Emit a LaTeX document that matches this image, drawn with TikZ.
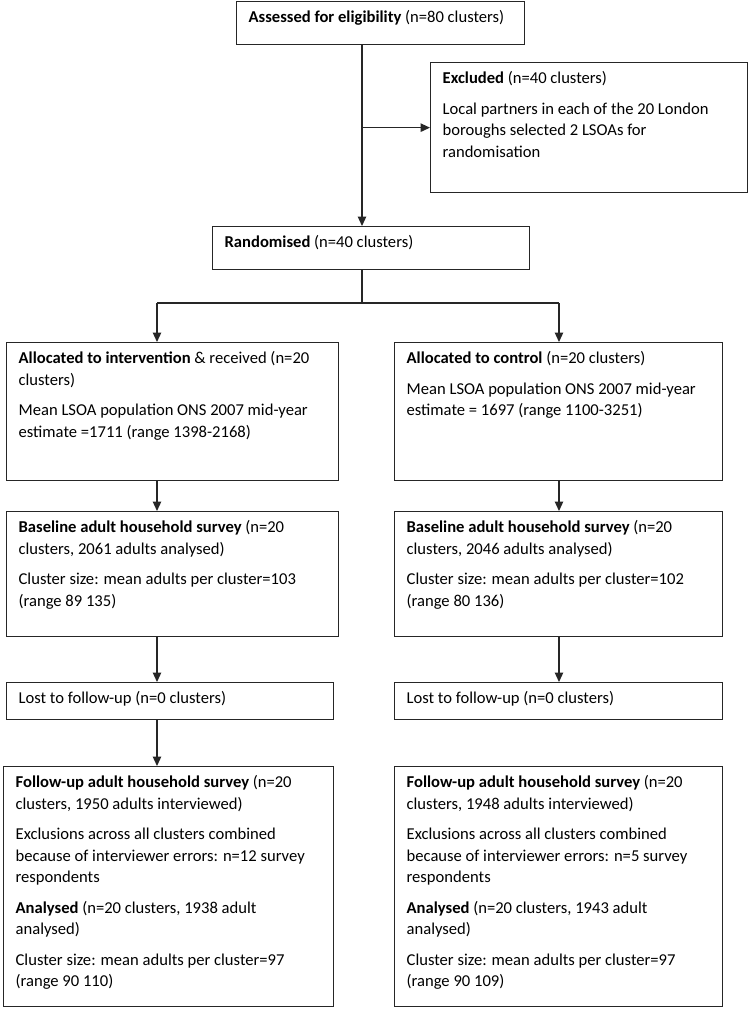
\documentclass[tikz,border=0pt]{standalone}
\usepackage{fontspec}
\setmainfont{Carlito}
\usetikzlibrary{arrows.meta}
\newcommand\bxt[3]{\parbox[c][#2pt][t]{#1pt}{\noindent\rule{0pt}{21pt}\hspace*{12pt}\begin{tabular}[t]{@{}l@{}}#3\end{tabular}}}
\newcommand\pgap{\\[9pt]}
\begin{document}
\begin{tikzpicture}[x=1pt,y=-1pt,
  box/.style={draw=black!85, line width=1.3pt, inner sep=0pt, anchor=north west,
    font=\fontsize{16.6}{21.5}\selectfont},
  conn/.style={draw=black!85, line width=1.2pt},
  arr/.style={conn, -{Triangle[length=9.5pt,width=8.5pt]}}]
\useasboundingbox (0,0) rectangle (748,1009);

\node[box] (assess) at (236,1) {\bxt{288}{43}{\textbf{Assessed for eligibility} (n=80 clusters)}};
\node[box] (excl) at (430,62) {\bxt{317}{130}{\textbf{Excluded} (n=40 clusters)\pgap
  Local partners in each of the 20 London\\ boroughs selected 2 LSOAs for\\ randomisation}};
\node[box] (rand) at (212,226) {\bxt{317}{43}{\textbf{Randomised} (n=40 clusters)}};

\node[box] (ai) at (6,342) {\bxt{332}{138}{\textbf{Allocated to intervention} \& received (n=20\\ clusters)\pgap
  Mean LSOA population ONS 2007 mid-year\\ estimate =1711 (range 1398-2168)}};
\node[box] (ac) at (394,342) {\bxt{328}{138}{\textbf{Allocated to control} (n=20 clusters)\pgap
  Mean LSOA population ONS 2007 mid-year\\ estimate = 1697 (range 1100-3251)}};

\node[box] (bi) at (6,511) {\bxt{332}{125}{\textbf{Baseline adult household survey} (n=20\\ clusters, 2061 adults analysed)\pgap
  Cluster size: mean adults per cluster=103\\ (range 89 135)}};
\node[box] (bc) at (394,511) {\bxt{328}{125}{\textbf{Baseline adult household survey} (n=20\\ clusters, 2046 adults analysed)\pgap
  Cluster size: mean adults per cluster=102\\ (range 80 136)}};

\node[box] (li) at (6,682) {\bxt{327}{37}{Lost to follow-up (n=0 clusters)}};
\node[box] (lc) at (394,682) {\bxt{328}{37}{Lost to follow-up (n=0 clusters)}};

\node[box] (fi) at (3,766) {\bxt{330}{240}{\textbf{Follow-up adult household survey} (n=20\\ clusters, 1950 adults interviewed)\pgap
  Exclusions across all clusters combined\\ because of interviewer errors: n=12 survey\\ respondents\pgap
  \textbf{Analysed} (n=20 clusters, 1938 adult\\ analysed)\pgap
  Cluster size: mean adults per cluster=97\\ (range 90 110)}};
\node[box] (fc) at (394,766) {\bxt{328}{240}{\textbf{Follow-up adult household survey} (n=20\\ clusters, 1948 adults interviewed)\pgap
  Exclusions across all clusters combined\\ because of interviewer errors: n=5 survey\\ respondents\pgap
  \textbf{Analysed} (n=20 clusters, 1943 adult\\ analysed)\pgap
  Cluster size: mean adults per cluster=97\\ (range 90 109)}};

\coordinate (vx) at (362,0);
\coordinate (bl) at (157,303);
\coordinate (br) at (559,303);

\draw[arr] (assess.south -| vx) -- (rand.north -| vx);
\draw[arr] (excl.west -| vx) -- (excl.west);
\draw[conn] (rand.south -| vx) -- (vx |- bl);
\draw[conn] (bl) -- (br);
\draw[arr] (bl) -- (bl |- ai.north);
\draw[arr] (br) -- (br |- ac.north);
\draw[arr] (ai.south -| bl) -- (bi.north -| bl);
\draw[arr] (ac.south -| br) -- (bc.north -| br);
\draw[arr] (bi.south -| bl) -- (li.north -| bl);
\draw[arr] (bc.south -| br) -- (lc.north -| br);
\draw[arr] (li.south -| bl) -- (fi.north -| bl);
\end{tikzpicture}
\end{document}
